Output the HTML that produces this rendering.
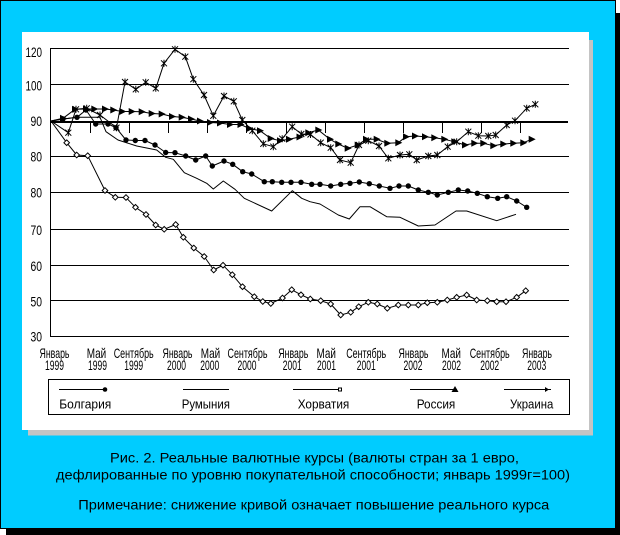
<!DOCTYPE html>
<html><head><meta charset="utf-8"><style>
html,body{margin:0;padding:0;background:#fff;}
svg{display:block;}
text{font-family:"Liberation Sans","DejaVu Sans",sans-serif;fill:#000;}
</style></head><body>
<svg width="620" height="535" viewBox="0 0 620 535" xmlns="http://www.w3.org/2000/svg">
<defs>
<circle id="mb" r="2.7" fill="#000"/>
<path id="mr" d="M-3,-3.5 L4,0 L-3,3.5Z" fill="#000"/>
<path id="mc" d="M0,-2.8 L2.8,0 L0,2.8 L-2.8,0Z" fill="#fff" stroke="#000" stroke-width="1"/>
<path id="mu" d="M-3,-3L3,3M-3,3L3,-3M0,-3.5V3.5" stroke="#000" stroke-width="1" fill="none"/>
</defs>
<!-- frame -->
<rect x="6" y="13" width="614" height="522" fill="#000"/>
<rect x="0.5" y="0.5" width="615" height="528" fill="#00ccff" stroke="#000" stroke-width="1"/>
<rect x="28" y="40" width="565" height="395.5" fill="#c4c4c4"/>
<rect x="22" y="32" width="567" height="398" fill="#fff"/>

<!-- grid -->
<g shape-rendering="crispEdges" fill="#000">
<rect x="51" y="48" width="518" height="1"/>
<rect x="51" y="84" width="518" height="1"/>
<rect x="51" y="121" width="517" height="2"/>
<rect x="51" y="156" width="518" height="1"/>
<rect x="51" y="192" width="518" height="1"/>
<rect x="51" y="229" width="518" height="1"/>
<rect x="51" y="265" width="518" height="1"/>
<rect x="51" y="300" width="518" height="1"/>
<rect x="51" y="336" width="518" height="1"/>
<rect x="50" y="48" width="1" height="289"/>
<rect x="90" y="123" width="1" height="10"/>
<rect x="129" y="123" width="1" height="10"/>
<rect x="168" y="123" width="1" height="10"/>
<rect x="207" y="123" width="1" height="10"/>
<rect x="246" y="123" width="1" height="10"/>
<rect x="286" y="123" width="1" height="10"/>
<rect x="325" y="123" width="1" height="10"/>
<rect x="364" y="123" width="1" height="10"/>
<rect x="403" y="123" width="1" height="10"/>
<rect x="442" y="123" width="1" height="10"/>
<rect x="481" y="123" width="1" height="10"/>
<rect x="520" y="123" width="1" height="10"/>
</g>

<!-- y labels -->
<g font-size="14" text-anchor="end">
<text x="42" y="57" textLength="16.5" lengthAdjust="spacingAndGlyphs">120</text>
<text x="42" y="90.5" textLength="16.5" lengthAdjust="spacingAndGlyphs">100</text>
<text x="42" y="126" textLength="11.5" lengthAdjust="spacingAndGlyphs">90</text>
<text x="42" y="161.5" textLength="11.5" lengthAdjust="spacingAndGlyphs">80</text>
<text x="42" y="197.5" textLength="11.5" lengthAdjust="spacingAndGlyphs">80</text>
<text x="42" y="235" textLength="11.5" lengthAdjust="spacingAndGlyphs">70</text>
<text x="42" y="271" textLength="11.5" lengthAdjust="spacingAndGlyphs">60</text>
<text x="42" y="306.5" textLength="11.5" lengthAdjust="spacingAndGlyphs">50</text>
<text x="42" y="341.5" textLength="11.5" lengthAdjust="spacingAndGlyphs">30</text>
</g>

<!-- x labels -->
<g font-size="14" text-anchor="middle">
<text x="54.5" y="358" textLength="30" lengthAdjust="spacingAndGlyphs">Январь</text>
<text x="54.5" y="370" textLength="19" lengthAdjust="spacingAndGlyphs">1999</text>
<text x="96.5" y="358" textLength="19.5" lengthAdjust="spacingAndGlyphs">Май</text>
<text x="97.5" y="370" textLength="19" lengthAdjust="spacingAndGlyphs">1999</text>
<text x="133.7" y="358" textLength="40" lengthAdjust="spacingAndGlyphs">Сентябрь</text>
<text x="133.7" y="370" textLength="19" lengthAdjust="spacingAndGlyphs">1999</text>
<text x="177.5" y="358" textLength="30" lengthAdjust="spacingAndGlyphs">Январь</text>
<text x="176.5" y="370" textLength="19" lengthAdjust="spacingAndGlyphs">2000</text>
<text x="210.5" y="358" textLength="19.5" lengthAdjust="spacingAndGlyphs">Май</text>
<text x="209.8" y="370" textLength="19" lengthAdjust="spacingAndGlyphs">2000</text>
<text x="247.5" y="358" textLength="40" lengthAdjust="spacingAndGlyphs">Сентябрь</text>
<text x="247" y="370" textLength="19" lengthAdjust="spacingAndGlyphs">2000</text>
<text x="293.3" y="358" textLength="30" lengthAdjust="spacingAndGlyphs">Январь</text>
<text x="292.3" y="370" textLength="19" lengthAdjust="spacingAndGlyphs">2001</text>
<text x="326.2" y="358" textLength="19.5" lengthAdjust="spacingAndGlyphs">Май</text>
<text x="326.5" y="370" textLength="19" lengthAdjust="spacingAndGlyphs">2001</text>
<text x="366.2" y="358" textLength="40" lengthAdjust="spacingAndGlyphs">Сентябрь</text>
<text x="366.3" y="370" textLength="19" lengthAdjust="spacingAndGlyphs">2001</text>
<text x="413.5" y="358" textLength="30" lengthAdjust="spacingAndGlyphs">Январь</text>
<text x="413" y="370" textLength="19" lengthAdjust="spacingAndGlyphs">2002</text>
<text x="451.2" y="358" textLength="19.5" lengthAdjust="spacingAndGlyphs">Май</text>
<text x="451.5" y="370" textLength="19" lengthAdjust="spacingAndGlyphs">2002</text>
<text x="489.7" y="358" textLength="40" lengthAdjust="spacingAndGlyphs">Сентябрь</text>
<text x="489.7" y="370" textLength="19" lengthAdjust="spacingAndGlyphs">2002</text>
<text x="537" y="358" textLength="30" lengthAdjust="spacingAndGlyphs">Январь</text>
<text x="536.8" y="370" textLength="19" lengthAdjust="spacingAndGlyphs">2003</text>
</g>

<!-- series lines -->
<g fill="none" stroke="#000" stroke-width="1" stroke-linejoin="round">
<polyline points="51,121 64,119 77,117.3 100,117.3 106,131.7 118,140 136.7,146 156.7,150 165.7,157.3 173.3,159.3 184.3,172.7 196.7,178.3 206.7,183.3 213.3,189 223.3,181 235,189.3 244.3,198.3 271.7,211 292.3,190.7 301.7,198.3 310,201.7 320,204 338.3,215 349.3,219 360,206.7 370,206.7 386.7,216.7 400,217.3 418.3,226 435,225 456,211 466.7,211 496.7,220.7 516,214.3"/>
<polyline points="51,121 66.7,142.7 76.7,155 87.7,155.7 105,190.5 115.3,197.3 126,197.5 135.5,207.3 146,214.5 155.7,225 164.2,229.3 175.7,224.5 183.3,237.3 193.8,248 204.2,256.5 213.7,270 223,265.2 232.3,274.7 242.5,286.7 254.3,296.7 262.8,301.5 270.8,303.5 282.5,298 291.7,289.7 301,294.8 310.3,299 320.7,300.7 330.7,304 340.7,315 350.7,312.3 358.7,306.7 368.3,302.3 377.3,304 387.3,308.3 398.3,305 408.3,305 418.3,305 427.3,302.7 437.3,302.3 447.3,300 456.7,297.3 466.7,295 476.7,300 487.3,300.7 496.7,301.7 506,301.7 516.7,297.3 525.7,290.7"/>
<polyline points="51,121 63,119 77,117.3 86,110 95.7,124 108,124 116,127.7 126,140 135.3,140.5 145,140.5 155,145 165.7,152.5 175,152.7 185.7,156 195.7,160 205.7,156 212.3,166 224,161 232.7,164.3 242.7,171.7 251.7,174 264.3,181.7 272.3,181.7 281.7,182.3 291,182.3 301,182.3 311.7,184.3 320,184.3 330.7,186 340.7,184.3 350,183.3 359.3,182 369.3,183.7 379.3,186 390,188.3 399,186 408.3,186 418.3,190 428.3,192.3 437.3,195 448.3,192.3 458.3,190 467.7,191 477.3,193.3 487.3,196.7 497.7,198.3 506.7,196.7 516.7,201 526.7,207.3"/>
<polyline points="51,121 63,118.3 75,109.3 86,109 94.3,109 105,109 113.3,110 122.3,111.5 131.7,111.5 141.7,111.7 151.7,113.5 161.7,114 172,116.5 181.7,117.3 191,119 200,121 210,122.5 220,123 230,124.5 240.5,124.5 249.5,128.5 260,130.7 270.7,138.5 280,140.7 289,139.3 299.5,137 308.3,132.7 318.3,130 330,139.3 338.3,144 347.7,148.3 357.7,145 366,139.3 376.7,139.3 387.3,143.3 398.3,142.7 406,136.7 415,136 425,136.7 434.3,137.7 444.3,139.3 454.3,141.7 465,145 474.3,143.3 483.3,143.3 493.3,145.7 503.3,144 513.3,143.3 523.3,142.7 531.7,139.3"/>
<polyline points="51,121 68.3,132.7 76,109.3 86.7,108.3 100,115 116.5,127.7 125,82 135.8,89.3 145.7,82.3 155.8,88.3 164,63.3 175,49.3 185.3,56.7 193.3,79.2 204,95 213.3,115.8 224,96 233.8,101.3 242.3,120 252.3,130.7 263.3,143.8 273.3,146.7 282.2,138.7 292.2,126.7 301.3,134 310.5,134.5 320.7,142.7 330.7,147.7 340,160 350.7,162.7 359,145 368.3,140.7 379,146 388.3,158.3 400,155 409.3,154.3 416.7,160 428.3,156 437.3,155 447.7,146.7 456.7,141.7 468.3,131.7 478.3,135.7 488.3,136 495.7,135 506.7,125 515,120.7 526.7,108.3 535.3,104.3"/>
</g>

<!-- Croatia markers -->
<g>
<use href="#mc" x="66.7" y="142.7"/><use href="#mc" x="76.7" y="155"/><use href="#mc" x="87.7" y="155.7"/><use href="#mc" x="105" y="190.5"/><use href="#mc" x="115.3" y="197.3"/><use href="#mc" x="126" y="197.5"/><use href="#mc" x="135.5" y="207.3"/><use href="#mc" x="146" y="214.5"/><use href="#mc" x="155.7" y="225"/><use href="#mc" x="164.2" y="229.3"/><use href="#mc" x="175.7" y="224.5"/><use href="#mc" x="183.3" y="237.3"/><use href="#mc" x="193.8" y="248"/><use href="#mc" x="204.2" y="256.5"/><use href="#mc" x="213.7" y="270"/><use href="#mc" x="223" y="265.2"/><use href="#mc" x="232.3" y="274.7"/><use href="#mc" x="242.5" y="286.7"/><use href="#mc" x="254.3" y="296.7"/><use href="#mc" x="262.8" y="301.5"/><use href="#mc" x="270.8" y="303.5"/><use href="#mc" x="282.5" y="298"/><use href="#mc" x="291.7" y="289.7"/><use href="#mc" x="301" y="294.8"/><use href="#mc" x="310.3" y="299"/><use href="#mc" x="320.7" y="300.7"/><use href="#mc" x="330.7" y="304"/><use href="#mc" x="340.7" y="315"/><use href="#mc" x="350.7" y="312.3"/><use href="#mc" x="358.7" y="306.7"/><use href="#mc" x="368.3" y="302.3"/><use href="#mc" x="377.3" y="304"/><use href="#mc" x="387.3" y="308.3"/><use href="#mc" x="398.3" y="305"/><use href="#mc" x="408.3" y="305"/><use href="#mc" x="418.3" y="305"/><use href="#mc" x="427.3" y="302.7"/><use href="#mc" x="437.3" y="302.3"/><use href="#mc" x="447.3" y="300"/><use href="#mc" x="456.7" y="297.3"/><use href="#mc" x="466.7" y="295"/><use href="#mc" x="476.7" y="300"/><use href="#mc" x="487.3" y="300.7"/><use href="#mc" x="496.7" y="301.7"/><use href="#mc" x="506" y="301.7"/><use href="#mc" x="516.7" y="297.3"/><use href="#mc" x="525.7" y="290.7"/>
</g>

<!-- Bulgaria markers -->
<g>
<use href="#mb" x="63" y="119"/><use href="#mb" x="77" y="117.3"/><use href="#mb" x="86" y="110"/><use href="#mb" x="95.7" y="124"/><use href="#mb" x="108" y="124"/><use href="#mb" x="116" y="127.7"/><use href="#mb" x="126" y="140"/><use href="#mb" x="135.3" y="140.5"/><use href="#mb" x="145" y="140.5"/><use href="#mb" x="155" y="145"/><use href="#mb" x="165.7" y="152.5"/><use href="#mb" x="175" y="152.7"/><use href="#mb" x="185.7" y="156"/><use href="#mb" x="195.7" y="160"/><use href="#mb" x="205.7" y="156"/><use href="#mb" x="212.3" y="166"/><use href="#mb" x="224" y="161"/><use href="#mb" x="232.7" y="164.3"/><use href="#mb" x="242.7" y="171.7"/><use href="#mb" x="251.7" y="174"/><use href="#mb" x="264.3" y="181.7"/><use href="#mb" x="272.3" y="181.7"/><use href="#mb" x="281.7" y="182.3"/><use href="#mb" x="291" y="182.3"/><use href="#mb" x="301" y="182.3"/><use href="#mb" x="311.7" y="184.3"/><use href="#mb" x="320" y="184.3"/><use href="#mb" x="330.7" y="186"/><use href="#mb" x="340.7" y="184.3"/><use href="#mb" x="350" y="183.3"/><use href="#mb" x="359.3" y="182"/><use href="#mb" x="369.3" y="183.7"/><use href="#mb" x="379.3" y="186"/><use href="#mb" x="390" y="188.3"/><use href="#mb" x="399" y="186"/><use href="#mb" x="408.3" y="186"/><use href="#mb" x="418.3" y="190"/><use href="#mb" x="428.3" y="192.3"/><use href="#mb" x="437.3" y="195"/><use href="#mb" x="448.3" y="192.3"/><use href="#mb" x="458.3" y="190"/><use href="#mb" x="467.7" y="191"/><use href="#mb" x="477.3" y="193.3"/><use href="#mb" x="487.3" y="196.7"/><use href="#mb" x="497.7" y="198.3"/><use href="#mb" x="506.7" y="196.7"/><use href="#mb" x="516.7" y="201"/><use href="#mb" x="526.7" y="207.3"/>
</g>

<!-- Russia markers -->
<g>
<use href="#mr" x="63" y="118.3"/><use href="#mr" x="75" y="109.3"/><use href="#mr" x="86" y="109"/><use href="#mr" x="94.3" y="109"/><use href="#mr" x="105" y="109"/><use href="#mr" x="113.3" y="110"/><use href="#mr" x="122.3" y="111.5"/><use href="#mr" x="131.7" y="111.5"/><use href="#mr" x="141.7" y="111.7"/><use href="#mr" x="151.7" y="113.5"/><use href="#mr" x="161.7" y="114"/><use href="#mr" x="172" y="116.5"/><use href="#mr" x="181.7" y="117.3"/><use href="#mr" x="191" y="119"/><use href="#mr" x="200" y="121"/><use href="#mr" x="210" y="122.5"/><use href="#mr" x="220" y="123"/><use href="#mr" x="230" y="124.5"/><use href="#mr" x="240.5" y="124.5"/><use href="#mr" x="249.5" y="128.5"/><use href="#mr" x="260" y="130.7"/><use href="#mr" x="270.7" y="138.5"/><use href="#mr" x="280" y="140.7"/><use href="#mr" x="289" y="139.3"/><use href="#mr" x="299.5" y="137"/><use href="#mr" x="308.3" y="132.7"/><use href="#mr" x="318.3" y="130"/><use href="#mr" x="330" y="139.3"/><use href="#mr" x="338.3" y="144"/><use href="#mr" x="347.7" y="148.3"/><use href="#mr" x="357.7" y="145"/><use href="#mr" x="366" y="139.3"/><use href="#mr" x="376.7" y="139.3"/><use href="#mr" x="387.3" y="143.3"/><use href="#mr" x="398.3" y="142.7"/><use href="#mr" x="406" y="136.7"/><use href="#mr" x="415" y="136"/><use href="#mr" x="425" y="136.7"/><use href="#mr" x="434.3" y="137.7"/><use href="#mr" x="444.3" y="139.3"/><use href="#mr" x="454.3" y="141.7"/><use href="#mr" x="465" y="145"/><use href="#mr" x="474.3" y="143.3"/><use href="#mr" x="483.3" y="143.3"/><use href="#mr" x="493.3" y="145.7"/><use href="#mr" x="503.3" y="144"/><use href="#mr" x="513.3" y="143.3"/><use href="#mr" x="523.3" y="142.7"/><use href="#mr" x="531.7" y="139.3"/>
</g>

<!-- Ukraine markers -->
<g>
<use href="#mu" x="68.3" y="132.7"/><use href="#mu" x="76" y="109.3"/><use href="#mu" x="86.7" y="108.3"/><use href="#mu" x="100" y="115"/><use href="#mu" x="116.5" y="127.7"/><use href="#mu" x="125" y="82"/><use href="#mu" x="135.8" y="89.3"/><use href="#mu" x="145.7" y="82.3"/><use href="#mu" x="155.8" y="88.3"/><use href="#mu" x="164" y="63.3"/><use href="#mu" x="175" y="49.3"/><use href="#mu" x="185.3" y="56.7"/><use href="#mu" x="193.3" y="79.2"/><use href="#mu" x="204" y="95"/><use href="#mu" x="213.3" y="115.8"/><use href="#mu" x="224" y="96"/><use href="#mu" x="233.8" y="101.3"/><use href="#mu" x="242.3" y="120"/><use href="#mu" x="252.3" y="130.7"/><use href="#mu" x="263.3" y="143.8"/><use href="#mu" x="273.3" y="146.7"/><use href="#mu" x="282.2" y="138.7"/><use href="#mu" x="292.2" y="126.7"/><use href="#mu" x="301.3" y="134"/><use href="#mu" x="310.5" y="134.5"/><use href="#mu" x="320.7" y="142.7"/><use href="#mu" x="330.7" y="147.7"/><use href="#mu" x="340" y="160"/><use href="#mu" x="350.7" y="162.7"/><use href="#mu" x="359" y="145"/><use href="#mu" x="368.3" y="140.7"/><use href="#mu" x="379" y="146"/><use href="#mu" x="388.3" y="158.3"/><use href="#mu" x="400" y="155"/><use href="#mu" x="409.3" y="154.3"/><use href="#mu" x="416.7" y="160"/><use href="#mu" x="428.3" y="156"/><use href="#mu" x="437.3" y="155"/><use href="#mu" x="447.7" y="146.7"/><use href="#mu" x="456.7" y="141.7"/><use href="#mu" x="468.3" y="131.7"/><use href="#mu" x="478.3" y="135.7"/><use href="#mu" x="488.3" y="136"/><use href="#mu" x="495.7" y="135"/><use href="#mu" x="506.7" y="125"/><use href="#mu" x="515" y="120.7"/><use href="#mu" x="526.7" y="108.3"/><use href="#mu" x="535.3" y="104.3"/>
</g>

<!-- legend -->
<rect x="48.5" y="379.5" width="521" height="35" fill="none" stroke="#000" stroke-width="1" shape-rendering="crispEdges"/>
<g stroke="#000" stroke-width="1" shape-rendering="crispEdges">
<line x1="59" y1="389.5" x2="106" y2="389.5"/>
<line x1="183" y1="389.5" x2="229" y2="389.5"/>
<line x1="293" y1="389.5" x2="340" y2="389.5"/>
<line x1="410" y1="389.5" x2="457" y2="389.5"/>
<line x1="504" y1="389.5" x2="551" y2="389.5"/>
</g>
<circle cx="105" cy="389.5" r="2.3" fill="#000"/>
<rect x="338.5" y="388" width="3" height="3" fill="#fff" stroke="#000" stroke-width="1"/>
<path d="M451.5,392 L455,386 L458.5,392Z" fill="#000"/>
<path d="M545,387 L549,389.5 L545,392Z" fill="#000"/>
<g font-size="12.5">
<text x="59.3" y="408.3" textLength="52" lengthAdjust="spacingAndGlyphs">Болгария</text>
<text x="181.7" y="408.3" textLength="48.3" lengthAdjust="spacingAndGlyphs">Румыния</text>
<text x="297.7" y="408.3" textLength="51.6" lengthAdjust="spacingAndGlyphs">Хорватия</text>
<text x="416.7" y="408.3" textLength="38.6" lengthAdjust="spacingAndGlyphs">Россия</text>
<text x="510" y="408.3" textLength="43.3" lengthAdjust="spacingAndGlyphs">Украина</text>
</g>

<!-- caption -->
<g font-size="14">
<text x="110" y="462.7" textLength="409" lengthAdjust="spacingAndGlyphs">Рис. 2. Реальные валютные курсы (валюты стран за 1 евро,</text>
<text x="56" y="479.3" textLength="514" lengthAdjust="spacingAndGlyphs">дефлированные по уровню покупательной способности; январь 1999г=100)</text>
<text x="78.3" y="509.3" textLength="471" lengthAdjust="spacingAndGlyphs">Примечание: снижение кривой означает повышение реального курса</text>
</g>
</svg>
</body></html>
